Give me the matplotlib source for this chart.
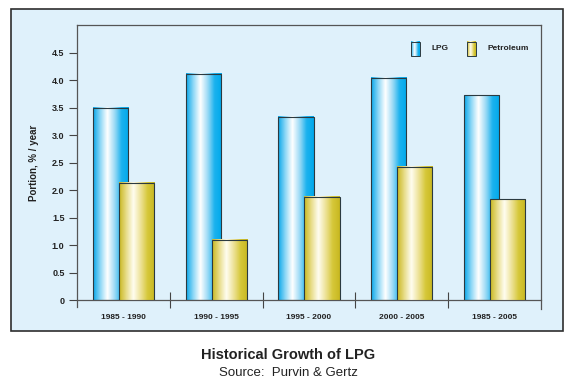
import matplotlib
matplotlib.use("Agg")
import matplotlib.pyplot as plt
import numpy as np
from matplotlib.colors import LinearSegmentedColormap
from matplotlib.patches import Rectangle

periods = ['1985 - 1990', '1990 - 1995', '1995 - 2000', '2000 - 2005', '1985 - 2005']
lpg = [3.50, 4.11, 3.33, 4.04, 3.72]
petroleum = [2.13, 1.10, 1.88, 2.42, 1.83]
yticks = [0, 0.5, 1.0, 1.5, 2.0, 2.5, 3.0, 3.5, 4.0, 4.5]
ylabels = ['0', '0.5', '1.0', '1.5', '2.0', '2.5', '3.0', '3.5', '4.0', '4.5']

plt.rcParams['font.family'] = ['Liberation Sans', 'DejaVu Sans']

blue = LinearSegmentedColormap.from_list('b', ['#0aa8ea', '#8fd8f6', '#ffffff', '#a0dcf6', '#1cb2ee', '#00a9ec'])
yellow = LinearSegmentedColormap.from_list('y', ['#c9b820', '#e8dd8a', '#fffdf0', '#eee39a', '#d6c83a', '#c8b820'])
grad = np.linspace(0, 1, 64).reshape(1, -1)

fig = plt.figure(figsize=(5.76, 3.84), dpi=100)
fig.patches.append(Rectangle((0.019, 0.138), 0.958, 0.839, transform=fig.transFigure,
                             facecolor='#dff1fb', edgecolor='#2e2e2e', linewidth=1.2, zorder=-5))

ax = fig.add_axes([0.1337, 0.2187, 0.8055, 0.7162])
ax.set_facecolor('none')

def gbar(x, w, h, cmap, z):
    ax.imshow(grad, cmap=cmap, extent=[x, x + w, 0, h], aspect='auto', zorder=z, interpolation='bilinear')
    ax.add_patch(Rectangle((x, 0), w, h, fill=False, edgecolor='#2b3a40', linewidth=0.8, zorder=z + 0.1))

w = 0.38
for i in range(len(periods)):
    gbar(i + 0.17, w, lpg[i], blue, 2)
    gbar(i + 0.45, w, petroleum[i], yellow, 3)

ax.set_xlim(0, 5)
ax.set_ylim(0, 5)

ax.set_yticks(yticks)
ax.set_yticklabels(ylabels, fontsize=6.5, fontweight='bold', color='#222222')
ax.tick_params(axis='y', direction='out', length=6, width=0.8, color='#444444', pad=3)

ax.set_xticks([1, 2, 3, 4])
ax.set_xticklabels([])
ax.set_xticks(np.arange(5) + 0.5, minor=True)
ax.set_xticklabels(periods, minor=True, fontsize=6, fontweight='bold', color='#222222')
ax.tick_params(axis='x', which='major', direction='inout', length=12, width=0.8, color='#444444')
ax.tick_params(axis='x', which='minor', length=0, pad=10)

for s in ax.spines.values():
    s.set_color('#555555')
    s.set_linewidth(0.9)
ax.spines['left'].set_bounds(-0.12, 5)
ax.spines['right'].set_bounds(-0.17, 5)

ax.set_ylabel('Portion, % / year', fontsize=7, fontweight='bold', color='#222222', labelpad=9)

# legend
for x0, cmap, label in [(0.72, blue, 'LPG'), (0.84, yellow, 'Petroleum')]:
    ax.imshow(grad, cmap=cmap, extent=[x0, x0 + 0.019, 0.887, 0.938], transform=ax.transAxes,
              aspect='auto', zorder=4)
    ax.add_patch(Rectangle((x0, 0.887), 0.019, 0.051, transform=ax.transAxes, fill=False,
                           edgecolor='#2b3a40', linewidth=0.7, zorder=5))
    ax.text(x0 + 0.045, 0.913, label, transform=ax.transAxes, fontsize=6, fontweight='bold',
            color='#222222', va='center', ha='left')

fig.text(0.5, 0.075, 'Historical Growth of LPG', ha='center', va='center', fontsize=10.5, fontweight='bold', color='#222222')
fig.text(0.5, 0.028, 'Source:  Purvin & Gertz', ha='center', va='center', fontsize=9.5, color='#222222')

fig.savefig('out.png', dpi=100)
